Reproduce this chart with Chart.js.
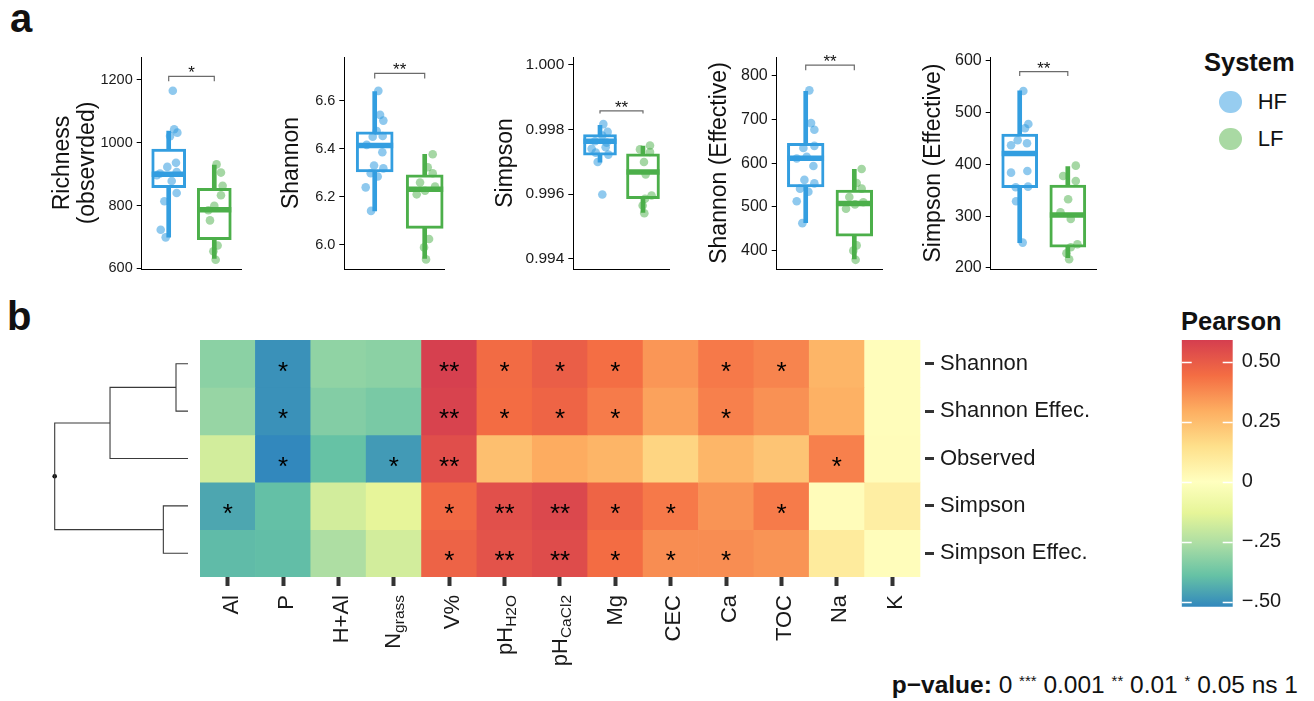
<!DOCTYPE html>
<html>
<head>
<meta charset="utf-8">
<script src="https://cdn.jsdelivr.net/npm/chart.js@4.4.1/dist/chart.umd.min.js"></script>
<style>
html,body{margin:0;padding:0;background:#fff;}
body{width:1314px;height:701px;position:relative;overflow:hidden;font-family:"Liberation Sans",Arial,Helvetica,sans-serif;color:#111;}
canvas{position:absolute;}
.t{position:absolute;white-space:nowrap;}
.dot{position:absolute;border-radius:50%;}
.st{font-size:15px;position:relative;top:-7px;}
</style>
</head>
<body>
<div class="t" style="left:10px;top:-2px;font-size:40px;line-height:40px;font-weight:bold;">a</div>
<div class="t" style="left:7px;top:296px;font-size:40px;line-height:40px;font-weight:bold;">b</div>
<div class="t" style="left:1204px;top:49.5px;font-size:25.5px;line-height:25.5px;font-weight:bold;">System</div>
<div class="t" style="left:1181px;top:309px;font-size:25.5px;line-height:25.5px;font-weight:bold;">Pearson</div>
<div class="t" id="pval" style="right:16px;top:673px;font-size:24.5px;line-height:24.5px;"><b>p−value:</b> 0 <span class="st">***</span> 0.001 <span class="st">**</span> 0.01 <span class="st">*</span> 0.05 ns 1</div>
<script>
// ---------------- DATA ----------------
const systems = ['HF', 'LF'];

// Richness (observed)
const richnessTicks = [600, 800, 1000, 1200];
const richnessTickLabels = ['600', '800', '1000', '1200'];
const richnessBoxHF = [700, 857, 900, 980, 1037];   // whisker low, q1, median, q3, whisker high
const richnessBoxLF = [632, 692, 787, 855, 929];
const richnessHF = [1165, 1043, 1032, 1021, 936, 923, 907, 902, 897, 878, 840, 814, 723, 699];
const richnessHFJitter = [0.09, 0.12, 0.19, 0.03, 0.16, -0.03, 0.175, -0.19, -0.26, 0.066, 0.175, -0.095, -0.175, -0.066];
const richnessLF = [931, 905, 863, 833, 799, 785, 753, 673, 655, 628];
const richnessLFJitter = [0.05, 0.146, 0.183, 0.146, 0, -0.13, -0.095, 0.073, -0.02, 0.03];
const richnessBracket = [1195, 1211];
const richnessSig = '*';

// Shannon
const shannonTicks = [6.0, 6.2, 6.4, 6.6];
const shannonTickLabels = ['6.0', '6.2', '6.4', '6.6'];
const shannonBoxHF = [6.142, 6.304, 6.414, 6.471, 6.639];
const shannonBoxLF = [5.944, 6.069, 6.232, 6.292, 6.378];
const shannonHF = [6.642, 6.542, 6.518, 6.475, 6.451, 6.454, 6.417, 6.386, 6.331, 6.319, 6.299, 6.285, 6.240, 6.142];
const shannonHFJitter = [0.073, 0.107, 0.173, 0.04, -0.04, 0.16, -0.16, 0.153, -0.013, 0.173, -0.08, 0.06, -0.18, -0.073];
const shannonLF = [6.378, 6.324, 6.299, 6.260, 6.243, 6.226, 6.211, 6.025, 5.990, 5.940];
const shannonLFJitter = [0.16, 0.06, 0.16, -0.093, 0.207, 0.007, -0.16, 0.087, -0.013, 0.027];
const shannonBracket = [6.693, 6.715];
const shannonSig = '**';

// Simpson
const simpsonTicks = [0.994, 0.996, 0.998, 1.000];
const simpsonTickLabels = ['0.994', '0.996', '0.998', '1.000'];
const simpsonBoxHF = [0.99699, 0.99720, 0.99763, 0.99784, 0.99812];
const simpsonBoxLF = [0.99544, 0.99586, 0.99668, 0.99724, 0.99748];
const simpsonHF = [0.99816, 0.99792, 0.99781, 0.99763, 0.99759, 0.99745, 0.99740, 0.99728, 0.99722, 0.99699, 0.99599];
const simpsonHFJitter = [0.078, 0.178, 0.054, -0.116, 0.155, 0.132, -0.194, -0.1, 0.194, -0.054, 0.054];
const simpsonLF = [0.99750, 0.99738, 0.99730, 0.99699, 0.99661, 0.99596, 0.99586, 0.99565, 0.99541];
const simpsonLFJitter = [0.163, -0.07, 0.163, 0.023, 0.062, 0.2, 0.047, -0.008, 0.031];
const simpsonBracket = [0.998485, 0.998567];
const simpsonSig = '**';

// Shannon (Effective)
const shanEffTicks = [400, 500, 600, 700, 800];
const shanEffTickLabels = ['400', '500', '600', '700', '800'];
const shanEffBoxHF = [464, 546, 611.5, 646, 765];
const shanEffBoxLF = [381, 433, 508, 538.5, 586];
const shanEffHF = [767, 692, 677, 640, 635, 615, 611, 594, 562, 554, 542, 535, 513, 463];
const shanEffHFJitter = [0.075, 0.11, 0.178, 0.178, -0.048, 0.02, -0.185, 0.158, -0.027, 0.178, -0.117, 0.055, -0.185, -0.069];
const shanEffLF = [587, 555, 542, 523, 511, 506, 496, 412, 400, 379];
const shanEffLFJitter = [0.151, 0.048, 0.151, -0.103, 0.185, 0.014, -0.171, 0.048, -0.021, 0.027];
const shanEffBracket = [813, 825];
const shanEffSig = '**';

// Simpson (Effective)
const simpEffTicks = [200, 300, 400, 500, 600];
const simpEffTickLabels = ['200', '300', '400', '500', '600'];
const simpEffBoxHF = [249, 355, 421, 458.5, 541.5];
const simpEffBoxLF = [220, 240, 302, 360, 395.5];
const simpEffHF = [541.5, 477.8, 469.5, 446.3, 440.5, 436.7, 387.1, 383.9, 356.9, 355.6, 328.6, 248.9];
const simpEffHFJitter = [0.076, 0.18, 0.11, -0.042, 0.152, -0.18, 0.159, -0.18, 0.173, -0.083, -0.076, 0.062];
const simpEffLF = [397.4, 377.5, 367.8, 332.5, 307.4, 294.5, 245.7, 239.9, 228.3, 216.7];
const simpEffLFJitter = [0.166, -0.097, 0.166, 0.007, -0.152, 0.062, 0.2, 0.062, -0.028, 0.028];
const simpEffBracket = [570.4, 578.8];
const simpEffSig = '**';

// Heatmap (Pearson correlations)
const heatCols = ['Al', 'P', 'H+Al', 'N', 'V%', 'pH', 'pH', 'Mg', 'CEC', 'Ca', 'TOC', 'Na', 'K'];
const heatColSubs = ['', '', '', 'grass', '', 'H2O', 'CaCl2', '', '', '', '', '', ''];
const heatRows = ['Shannon', 'Shannon Effec.', 'Observed', 'Simpson', 'Simpson Effec.'];
const corShannon    = [-0.32, -0.50, -0.31, -0.32, 0.585, 0.45, 0.49, 0.44, 0.35, 0.415, 0.39, 0.275, 0.01];
const corShannonEff = [-0.297, -0.50, -0.336, -0.355, 0.575, 0.445, 0.47, 0.41, 0.322, 0.40, 0.36, 0.285, 0.01];
const corObserved   = [-0.173, -0.53, -0.39, -0.48, 0.54, 0.245, 0.30, 0.275, 0.18, 0.27, 0.23, 0.40, 0.015];
const corSimpson    = [-0.452, -0.394, -0.173, -0.125, 0.455, 0.535, 0.56, 0.47, 0.415, 0.355, 0.41, 0.015, 0.08];
const corSimpsonEff = [-0.405, -0.40, -0.253, -0.173, 0.475, 0.525, 0.545, 0.445, 0.37, 0.37, 0.355, 0.096, 0.01];
const sigShannon    = ['', '*', '', '', '**', '*', '*', '*', '', '*', '*', '', ''];
const sigShannonEff = ['', '*', '', '', '**', '*', '*', '*', '', '*', '', '', ''];
const sigObserved   = ['', '*', '', '*', '**', '', '', '', '', '', '', '*', ''];
const sigSimpson    = ['*', '', '', '', '*', '**', '**', '*', '*', '', '*', '', ''];
const sigSimpsonEff = ['', '', '', '', '*', '**', '**', '*', '*', '*', '', '', ''];

// Colour scale
const pearsonTicks = [-0.5, -0.25, 0, 0.25, 0.5];
const pearsonTickLabels = ['\u2212.50', '\u2212.25', '0', '0.25', '0.50'];
const pearsonMin = -0.52, pearsonMax = 0.59;
const corStopValues = [-0.52, -0.39, -0.26, -0.13, 0, 0.1475, 0.295, 0.4425, 0.59];
const corStopColors = ['#3288BD', '#66C2A5', '#ABDDA4', '#E6F598', '#FFFFBF', '#FEE08B', '#FDAE61', '#F46D43', '#D53E4F'];

// Dendrogram (hclust-style merges: negative = leaf row, positive = earlier merge)
const dendroMergeA = [-1, -4, 1, 3];
const dendroMergeB = [-2, -5, -3, 2];
const dendroHeights = [0.09, 0.185, 0.585, 1.0];

// ---------------- STYLE / HELPERS ----------------
const FONT = '"Liberation Sans", Arial, Helvetica, sans-serif';
const HF_COL = '#339ee0', LF_COL = '#4caf4a';
const HF_PT = 'rgba(51,157,224,0.55)', LF_PT = 'rgba(76,175,74,0.5)';
const LEG_COLS = ['#97cdf0', '#a9d9a3'];
Chart.defaults.font.family = FONT;
Chart.defaults.color = '#1a1a1a';

function makeCanvas(left, top, w, h) {
  const c = document.createElement('canvas');
  c.width = w; c.height = h;
  c.style.left = left + 'px'; c.style.top = top + 'px';
  c.style.width = w + 'px'; c.style.height = h + 'px';
  document.body.appendChild(c);
  return c;
}
function fillCentered(ctx, text, x, y) {
  ctx.textAlign = 'center'; ctx.textBaseline = 'alphabetic';
  const m = ctx.measureText(text);
  ctx.fillText(text, x, y + (m.actualBoundingBoxAscent - m.actualBoundingBoxDescent) / 2);
}
function hexToRgb(h) { const n = parseInt(h.slice(1), 16); return [(n >> 16) & 255, (n >> 8) & 255, n & 255]; }
function corColor(v) {
  const vals = corStopValues, cols = corStopColors.map(hexToRgb);
  if (v <= vals[0]) return 'rgb(' + cols[0].join(',') + ')';
  for (let i = 1; i < vals.length; i++) {
    if (v <= vals[i]) {
      const t = (v - vals[i - 1]) / (vals[i] - vals[i - 1]);
      const c = cols[i - 1].map((a, k) => Math.round(a + (cols[i][k] - a) * t));
      return 'rgb(' + c.join(',') + ')';
    }
  }
  return 'rgb(' + cols[cols.length - 1].join(',') + ')';
}
const baseOpts = { responsive: false, animation: false, devicePixelRatio: 1, events: [],
  plugins: { legend: { display: false }, tooltip: { enabled: false } } };

// ---------------- BOX PANELS ----------------
const panels = [
  { left: 50, chartLeft: 141.7, chartRight: 241.7, xMin: 0.408, xMax: 2.601, yMin: 598.4, yMax: 1272.5, tickFont: 14.5, boxW: 34,
    title: ['Richness', '(obsevrded)'], ticks: richnessTicks, tickLabels: richnessTickLabels, boxHF: richnessBoxHF, boxLF: richnessBoxLF,
    hf: richnessHF, hfJit: richnessHFJitter, lf: richnessLF, lfJit: richnessLFJitter, bracket: richnessBracket, sig: richnessSig },
  { left: 279, chartLeft: 344.3, chartRight: 444, xMin: 0.392, xMax: 2.386, yMin: 5.9, yMax: 6.783, tickFont: 14.5, boxW: 37,
    title: 'Shannon', ticks: shannonTicks, tickLabels: shannonTickLabels, boxHF: shannonBoxHF, boxLF: shannonBoxLF,
    hf: shannonHF, hfJit: shannonHFJitter, lf: shannonLF, lfJit: shannonLFJitter, bracket: shannonBracket, sig: shannonSig },
  { left: 493, chartLeft: 573.3, chartRight: 669.3, xMin: 0.379, xMax: 2.612, yMin: 0.9936916, yMax: 1.0002296, tickFont: 15.5, boxW: 33,
    title: 'Simpson', ticks: simpsonTicks, tickLabels: simpsonTickLabels, boxHF: simpsonBoxHF, boxLF: simpsonBoxLF,
    hf: simpsonHF, hfJit: simpsonHFJitter, lf: simpsonLF, lfJit: simpsonLFJitter, bracket: simpsonBracket, sig: simpsonSig },
  { left: 707, chartLeft: 776.7, chartRight: 882.7, xMin: 0.403, xMax: 2.584, yMin: 358, yMax: 843.4, tickFont: 16, boxW: 36.7,
    title: 'Shannon (Effective)', ticks: shanEffTicks, tickLabels: shanEffTickLabels, boxHF: shanEffBoxHF, boxLF: shanEffBoxLF,
    hf: shanEffHF, hfJit: shanEffHFJitter, lf: shanEffLF, lfJit: shanEffLFJitter, bracket: shanEffBracket, sig: shanEffSig },
  { left: 921, chartLeft: 990.7, chartRight: 1096.7, xMin: 0.397, xMax: 2.601, yMin: 198, yMax: 607, tickFont: 16, boxW: 36,
    title: 'Simpson (Effective)', ticks: simpEffTicks, tickLabels: simpEffTickLabels, boxHF: simpEffBoxHF, boxLF: simpEffBoxLF,
    hf: simpEffHF, hfJit: simpEffHFJitter, lf: simpEffLF, lfJit: simpEffLFJitter, bracket: simpEffBracket, sig: simpEffSig }
];

panels.forEach(cfg => {
  const top = 40, h = 244;
  const w = Math.ceil(cfg.chartRight - cfg.left + 8);
  const canvas = makeCanvas(cfg.left, top, w, h);
  const hfPts = cfg.hf.map((v, i) => ({ x: 1 + cfg.hfJit[i], y: v }));
  const lfPts = cfg.lf.map((v, i) => ({ x: 2 + cfg.lfJit[i], y: v }));
  const b0 = cfg.bracket[0], b1 = cfg.bracket[1];
  new Chart(canvas, {
    type: 'bar',
    data: { datasets: [
      { type: 'line', data: [{ x: 1, y: b0 }, { x: 1, y: b1 }, { x: 2, y: b1 }, { x: 2, y: b0 }],
        borderColor: '#6b6b6b', borderWidth: 1.2, pointRadius: 0, fill: false, tension: 0, order: 0 },
      { type: 'scatter', data: hfPts, pointBackgroundColor: HF_PT, pointBorderWidth: 0, pointRadius: 4.3, order: 1 },
      { type: 'scatter', data: lfPts, pointBackgroundColor: LF_PT, pointBorderWidth: 0, pointRadius: 4.3, order: 1 },
      { type: 'scatter', data: [{ x: 1, y: cfg.boxHF[2] }, { x: 2, y: cfg.boxLF[2] }], pointStyle: 'line',
        pointRadius: cfg.boxW / 2, pointHoverRadius: cfg.boxW / 2, pointBorderColor: [HF_COL, LF_COL],
        pointBorderWidth: 5.5, pointBackgroundColor: [HF_COL, LF_COL], order: 2 },
      { type: 'bar', data: [{ x: 1, y: [cfg.boxHF[1], cfg.boxHF[3]] }, { x: 2, y: [cfg.boxLF[1], cfg.boxLF[3]] }],
        backgroundColor: '#ffffff', borderColor: [HF_COL, LF_COL], borderWidth: 3, borderSkipped: false,
        barThickness: cfg.boxW, grouped: false, order: 3 },
      { type: 'bar', data: [{ x: 1, y: [cfg.boxHF[0], cfg.boxHF[4]] }, { x: 2, y: [cfg.boxLF[0], cfg.boxLF[4]] }],
        backgroundColor: [HF_COL, LF_COL], borderWidth: 0, barThickness: 4, grouped: false, order: 4 }
    ] },
    options: Object.assign({}, baseOpts, {
      layout: { autoPadding: false, padding: { left: 0, right: w - (cfg.chartRight - cfg.left), top: 17, bottom: 0 } },
      scales: {
        x: { type: 'linear', min: cfg.xMin, max: cfg.xMax, offset: false,
             ticks: { display: false }, grid: { display: false, offset: false },
             border: { display: true, color: '#000', width: 1 },
             afterFit: s => { s.height = 15; } },
        y: { type: 'linear', position: 'left', min: cfg.yMin, max: cfg.yMax,
             afterBuildTicks: s => { s.ticks = cfg.ticks.map(v => ({ value: v })); },
             ticks: { callback: (v, i) => cfg.tickLabels[i], color: '#1a1a1a', font: { size: cfg.tickFont }, padding: 4, autoSkip: false },
             grid: { display: true, drawOnChartArea: false, drawTicks: true, tickLength: 5, color: '#000' },
             border: { display: true, color: '#000', width: 1 },
             title: { display: true, text: cfg.title, color: '#111', font: { size: 23, lineHeight: 1.1 }, padding: 0 },
             afterFit: s => { s.width = cfg.chartLeft - cfg.left; } }
      }
    }),
    plugins: [{
      id: 'sigStar',
      afterDatasetsDraw(chart) {
        const { ctx, scales } = chart;
        ctx.save();
        ctx.fillStyle = '#111';
        ctx.font = '17px ' + FONT;
        fillCentered(ctx, cfg.sig, scales.x.getPixelForValue(1.5), scales.y.getPixelForValue(b1) - 7);
        ctx.restore();
      }
    }]
  });
});

// Legend (System)
systems.forEach((s, i) => {
  const cy = 102.2 + i * 37;
  const d = document.createElement('div');
  d.className = 'dot';
  d.style.cssText = 'left:1219.3px;top:' + (cy - 11.2) + 'px;width:22.4px;height:22.4px;background:' + LEG_COLS[i] + ';';
  document.body.appendChild(d);
  const t = document.createElement('div');
  t.className = 't';
  t.style.cssText = 'left:1257.7px;top:' + (cy + 7.8 - 18.6) + 'px;font-size:22px;line-height:22px;';
  t.textContent = s;
  document.body.appendChild(t);
});

// ---------------- HEATMAP ----------------
const heatValues = [corShannon, corShannonEff, corObserved, corSimpson, corSimpsonEff];
const heatSig = [sigShannon, sigShannonEff, sigObserved, sigSimpson, sigSimpsonEff];
const heatCanvas = makeCanvas(180, 315, 970, 384);
new Chart(heatCanvas, {
  type: 'bar',
  data: { datasets: heatValues.map((vals, r) => ({
    data: vals.map((v, i) => ({ x: i, y: [r - 0.5, r + 0.5] })),
    backgroundColor: vals.map(corColor),
    borderWidth: 0, borderSkipped: false, grouped: false, barPercentage: 1, categoryPercentage: 1
  })) },
  options: Object.assign({}, baseOpts, {
    layout: { autoPadding: false, padding: { left: 20, right: 0, top: 25, bottom: 0 } },
    scales: {
      x: { type: 'linear', min: -0.5, max: 12.5 + 5 / 55.38, offset: false,
           afterBuildTicks: s => { s.ticks = heatCols.map((c, i) => ({ value: i })); },
           ticks: { display: false },
           grid: { display: true, drawOnChartArea: false, drawTicks: true, tickLength: 9, tickWidth: 4, tickColor: '#333', offset: false },
           border: { display: false },
           afterFit: s => { s.height = 122; } },
      y: { type: 'linear', position: 'right', reverse: true, min: -0.5, max: 4.5,
           afterBuildTicks: s => { s.ticks = heatRows.map((c, i) => ({ value: i })); },
           ticks: { callback: (v, i) => heatRows[i], font: { size: 22 }, color: '#1a1a1a', padding: 6, autoSkip: false },
           grid: { display: true, drawOnChartArea: false, drawTicks: true, tickLength: 9, tickWidth: 3, tickColor: '#333' },
           border: { display: false },
           afterFit: s => { s.width = 225; } }
    }
  }),
  plugins: [{
    id: 'heatText',
    afterDatasetsDraw(chart) {
      const { ctx, scales: { x, y } } = chart;
      ctx.save();
      ctx.fillStyle = '#000';
      ctx.font = '26px ' + FONT;
      heatSig.forEach((row, r) => row.forEach((s, i) => {
        if (!s) return;
        fillCentered(ctx, s, x.getPixelForValue(i), y.getPixelForValue(r) + 3);
      }));
      ctx.restore();
    },
    afterDraw(chart) {
      const { ctx, scales: { x }, chartArea } = chart;
      const yTop = chartArea.bottom + 18;
      const MAIN = '22px ' + FONT, SUB = '15.5px ' + FONT, SUB_DY = 4.5;
      ctx.save();
      ctx.fillStyle = '#1a1a1a';
      heatCols.forEach((main, i) => {
        const sub = heatColSubs[i];
        const cx = x.getPixelForValue(i);
        ctx.save();
        ctx.translate(cx, yTop);
        ctx.rotate(-Math.PI / 2);
        ctx.textAlign = 'right'; ctx.textBaseline = 'alphabetic';
        ctx.font = MAIN;
        const mm = ctx.measureText(main);
        let tp = -mm.actualBoundingBoxAscent, bt = mm.actualBoundingBoxDescent, subW = 0;
        if (sub) {
          ctx.font = SUB;
          const sm = ctx.measureText(sub);
          subW = sm.width;
          tp = Math.min(tp, SUB_DY - sm.actualBoundingBoxAscent);
          bt = Math.max(bt, SUB_DY + sm.actualBoundingBoxDescent);
        }
        const base = 2 - (tp + bt) / 2;
        if (sub) { ctx.font = SUB; ctx.fillText(sub, 0, base + SUB_DY); }
        ctx.font = MAIN;
        ctx.fillText(main, -subW, base);
        ctx.restore();
      });
      ctx.restore();
    }
  }]
});

// ---------------- DENDROGRAM ----------------
function nodeInfo(id) {
  if (id < 0) return { h: 0, r: -id - 1 };
  const a = nodeInfo(dendroMergeA[id - 1]), b = nodeInfo(dendroMergeB[id - 1]);
  return { h: dendroHeights[id - 1], r: (a.r + b.r) / 2 };
}
const dendroSets = dendroHeights.map((hgt, k) => {
  const a = nodeInfo(dendroMergeA[k]), b = nodeInfo(dendroMergeB[k]);
  return { type: 'line', data: [{ x: a.h, y: a.r }, { x: hgt, y: a.r }, { x: hgt, y: b.r }, { x: b.h, y: b.r }],
    borderColor: '#3a3a3a', borderWidth: 1.1, pointRadius: 0, fill: false, tension: 0, clip: false };
});
const rootId = dendroHeights.length;
const rootInfo = nodeInfo(rootId);
dendroSets.push({ type: 'scatter', data: [{ x: rootInfo.h, y: rootInfo.r }], pointRadius: 2.3,
  pointBackgroundColor: '#111', pointBorderWidth: 0, clip: false });
const dendroCanvas = makeCanvas(40, 330, 160, 260);
new Chart(dendroCanvas, {
  type: 'scatter',
  data: { datasets: dendroSets },
  options: Object.assign({}, baseOpts, {
    layout: { autoPadding: false, padding: { left: 14.7, right: 12, top: 10, bottom: 13 } },
    scales: {
      x: { type: 'linear', reverse: true, min: 0, max: 1, display: false },
      y: { type: 'linear', reverse: true, min: -0.5, max: 4.5, display: false }
    }
  })
});

// ---------------- COLOUR BAR ----------------
const cbCanvas = makeCanvas(1170, 310, 144, 320);
new Chart(cbCanvas, {
  type: 'bar',
  data: { labels: ['Pearson'], datasets: [{
    data: [[pearsonMin, pearsonMax]],
    backgroundColor: (c) => {
      const chart = c.chart; const { ctx, chartArea, scales } = chart;
      if (!chartArea || !scales.y) return '#ffffbf';
      const y0 = scales.y.getPixelForValue(pearsonMin), y1 = scales.y.getPixelForValue(pearsonMax);
      const g = ctx.createLinearGradient(0, y0, 0, y1);
      corStopValues.forEach((v, i) => {
        const t = Math.min(1, Math.max(0, (v - pearsonMin) / (pearsonMax - pearsonMin)));
        g.addColorStop(t, corStopColors[i]);
      });
      return g;
    },
    borderWidth: 0, borderSkipped: false, barPercentage: 1, categoryPercentage: 1
  }] },
  options: Object.assign({}, baseOpts, {
    layout: { autoPadding: false, padding: { left: 11.7, right: 0, top: 30, bottom: 23.3 } },
    scales: {
      x: { display: false },
      y: { type: 'linear', position: 'right', min: pearsonMin, max: pearsonMax,
           afterBuildTicks: s => { s.ticks = pearsonTicks.map(v => ({ value: v })); },
           ticks: { callback: (v, i) => pearsonTickLabels[i], font: { size: 20 }, color: '#1a1a1a', padding: 9, autoSkip: false },
           grid: { display: false, drawTicks: false },
           border: { display: false },
           afterFit: s => { s.width = 81.3; } }
    }
  }),
  plugins: [{
    id: 'cbTicks',
    afterDatasetsDraw(chart) {
      const { ctx, chartArea, scales: { y } } = chart;
      ctx.save();
      ctx.strokeStyle = '#ffffff';
      ctx.lineWidth = 1.6;
      pearsonTicks.forEach(v => {
        const py = Math.round(y.getPixelForValue(v)) + 0.5;
        ctx.beginPath();
        ctx.moveTo(chartArea.left, py); ctx.lineTo(chartArea.left + 10, py);
        ctx.moveTo(chartArea.right - 10, py); ctx.lineTo(chartArea.right, py);
        ctx.stroke();
      });
      ctx.restore();
    }
  }]
});
</script>
</body>
</html>
